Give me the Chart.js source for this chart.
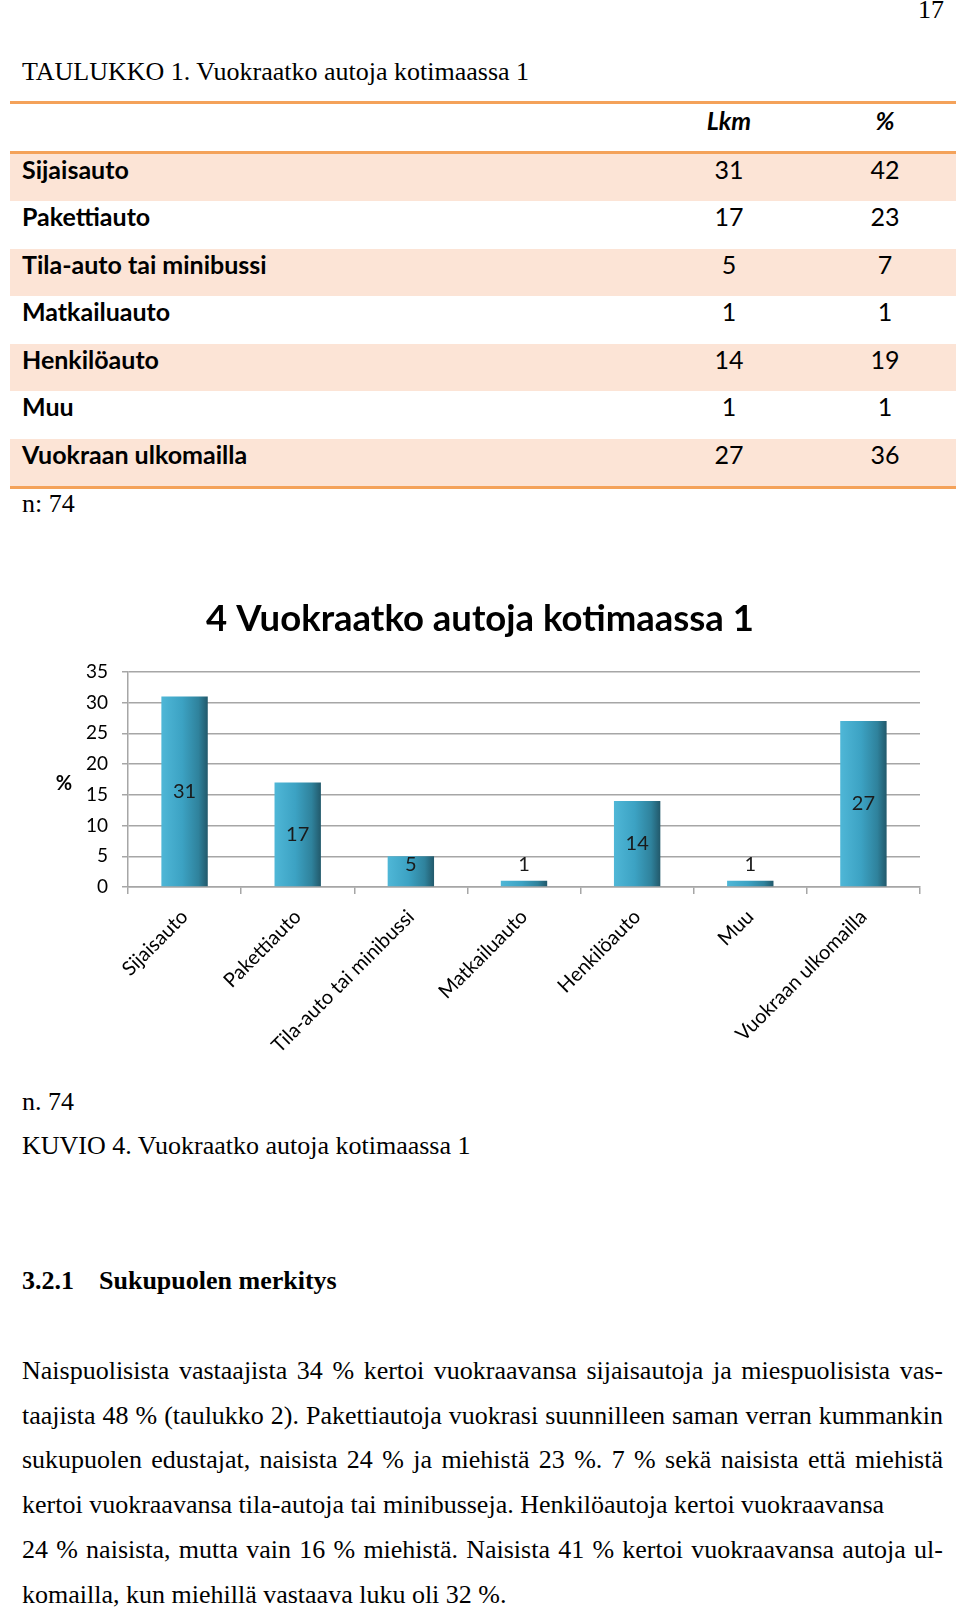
<!DOCTYPE html>
<html>
<head>
<meta charset="utf-8">
<script src="https://cdn.jsdelivr.net/npm/chart.js@4.4.1/dist/chart.umd.min.js"></script>
<style>
  html, body { margin: 0; padding: 0; background: #fff; }
  body { width: 960px; height: 1609px; position: relative; overflow: hidden; }
  .serif { position: absolute; font-family: "Liberation Serif", "Times New Roman", serif; font-size: 26px; color: #000; line-height: 30px; white-space: nowrap; }
  .rule { position: absolute; left: 10px; width: 946px; height: 3px; background: #f4a25a; }
  .row { position: absolute; left: 10px; width: 946px; height: 47.5px; font-family: Lato, sans-serif; font-size: 25px; line-height: 31px; color: #000; }
  .row.band { background: #fce4d6; }
  .row .name { position: absolute; left: 12px; top: 0; font-weight: bold; }
  .row .num { position: absolute; top: 0; width: 80px; text-align: center; }
  .para { position: absolute; left: 22px; width: 921px; font-family: "Liberation Serif", "Times New Roman", serif; font-size: 26px; line-height: 30px; color: #000; }
  .para.j { text-align: justify; text-align-last: justify; }
  #chartBox { position: absolute; left: 0; top: 570px; width: 960px; height: 490px; }
</style>
</head>
<body>

<div class="serif" style="left:918px; top:-5px;">17</div>
<div class="serif" style="left:22px; top:57px;">TAULUKKO 1. Vuokraatko autoja kotimaassa 1</div>

<div id="table"></div>

<div class="serif" style="left:22px; top:489px;">n: 74</div>

<div id="chartBox"><canvas id="chart" width="960" height="490"></canvas></div>

<div class="serif" style="left:22px; top:1087px;">n. 74</div>
<div class="serif" style="left:22px; top:1131px;">KUVIO 4. Vuokraatko autoja kotimaassa 1</div>
<div class="serif" style="left:22px; top:1266px; font-weight:bold;">3.2.1</div>
<div class="serif" style="left:99px; top:1266px; font-weight:bold;">Sukupuolen merkitys</div>

<div id="text"></div>

<script>
// taulukon ja kuvion tiedot
const categories = ['Sijaisauto', 'Pakettiauto', 'Tila-auto tai minibussi', 'Matkailuauto', 'Henkilöauto', 'Muu', 'Vuokraan ulkomailla'];
const lkmValues = [31, 17, 5, 1, 14, 1, 27];
const pctValues = [42, 23, 7, 1, 19, 1, 36];
const yMax = 35;
const yStep = 5;

const paragraphLines = [
    ['Naispuolisista vastaajista 34 % kertoi vuokraavansa sijaisautoja ja miespuolisista vas-', true],
    ['taajista 48 % (taulukko 2). Pakettiautoja vuokrasi suunnilleen saman verran kummankin', true],
    ['sukupuolen edustajat, naisista 24 % ja miehistä 23 %. 7 % sekä naisista että miehistä', true],
    ['kertoi vuokraavansa tila-autoja tai minibusseja. Henkilöautoja kertoi vuokraavansa', false],
    ['24 % naisista, mutta vain 16 % miehistä. Naisista 41 % kertoi vuokraavansa autoja ul-', true],
    ['komailla, kun miehillä vastaava luku oli 32 %.', false]
];

// Taulukko
function buildTable() {
    const box = document.getElementById('table');
    let html = '<div class="rule" style="top:101px"></div>';
    html += '<div class="row" style="top:104px; height:46.5px; line-height:32px; font-weight:bold; font-style:italic;">' +
        '<span class="num" style="left:679px">Lkm</span><span class="num" style="left:835px">%</span></div>';
    html += '<div class="rule" style="top:150.5px"></div>';
    categories.forEach((name, i) => {
        const top = 153.5 + i * 47.5;
        html += `<div class="row${i % 2 === 0 ? ' band' : ''}" style="top:${top}px">
            <span class="name">${name}</span>
            <span class="num" style="left:679px">${lkmValues[i]}</span>
            <span class="num" style="left:835px">${pctValues[i]}</span></div>`;
    });
    html += '<div class="rule" style="top:486px"></div>';
    box.innerHTML = html;
}

// Leipäteksti
function buildText() {
    const box = document.getElementById('text');
    paragraphLines.forEach(([line, justify], i) => {
        const div = document.createElement('div');
        div.className = 'para' + (justify ? ' j' : '');
        div.style.top = (1356 + i * 44.7) + 'px';
        div.textContent = line;
        box.appendChild(div);
    });
}

buildTable();
buildText();

// pylväiden liukuväri
function barGradient(context) {
    const chart = context.chart;
    const xScale = chart.scales.x;
    if (!xScale || !chart.chartArea) return '#3ba0c2';
    const cx = xScale.getPixelForValue(context.dataIndex);
    const half = xScale.width / categories.length * 0.41 / 2;
    const g = chart.ctx.createLinearGradient(cx - half, 0, cx + half, 0);
    g.addColorStop(0, '#4fb7d7');
    g.addColorStop(0.45, '#3ca2c3');
    g.addColorStop(0.8, '#2f829c');
    g.addColorStop(1, '#22596b');
    return g;
}

// arvot pylväiden keskelle + %-otsikko
const valueLabels = {
    id: 'valueLabels',
    afterDatasetsDraw(chart) {
        const { ctx, scales: { x, y } } = chart;
        ctx.save();
        ctx.fillStyle = '#1a1a1a';
        ctx.textAlign = 'center';
        ctx.textBaseline = 'middle';
        ctx.font = '20px Lato';
        lkmValues.forEach((v, i) => {
            const cy = Math.min(y.getPixelForValue(v / 2), y.getPixelForValue(0) - 22);
            ctx.fillText(String(v), x.getPixelForValue(i), cy);
        });
        ctx.font = 'bold 20px Lato';
        ctx.fillStyle = '#000';
        ctx.fillText('%', y.left + 24, (y.top + y.bottom) / 2 + 4);
        ctx.restore();
    }
};

const gridGray = '#a6a6a6';
const tickFont = { family: 'Lato', size: 19 };

const ctx = document.getElementById('chart').getContext('2d');
const barChart = new Chart(ctx, {
    type: 'bar',
    data: {
        labels: categories,
        datasets: [{
            data: lkmValues,
            backgroundColor: barGradient,
            borderWidth: 0,
            barPercentage: 0.41,
            categoryPercentage: 1
        }]
    },
    options: {
        responsive: false,
        animation: false,
        layout: { padding: { left: 40, right: 40, top: 0, bottom: 4 } },
        plugins: {
            legend: { display: false },
            tooltip: { enabled: false },
            title: {
                display: true,
                text: '4 Vuokraatko autoja kotimaassa 1',
                color: '#000',
                font: { family: 'Lato', size: 36.5, weight: 'bold' },
                padding: { top: 27, bottom: 31 }
            }
        },
        scales: {
            x: {
                grid: { drawOnChartArea: false, drawTicks: true, tickLength: 7, color: gridGray, lineWidth: 1.5, offset: true },
                border: { color: gridGray, width: 1.5 },
                ticks: { minRotation: 45, maxRotation: 45, autoSkip: false, color: '#000', font: { family: 'Lato', size: 20 }, padding: 11 },
                afterFit: s => { s.height = 169; }
            },
            y: {
                min: 0,
                max: yMax,
                ticks: { stepSize: yStep, color: '#000', font: tickFont, padding: 14 },
                grid: { color: gridGray, lineWidth: 1.5, tickLength: 6 },
                border: { color: gridGray, width: 1.5 },
                afterFit: s => { s.width = 88; }
            }
        }
    },
    plugins: [valueLabels]
});
</script>
</body>
</html>
